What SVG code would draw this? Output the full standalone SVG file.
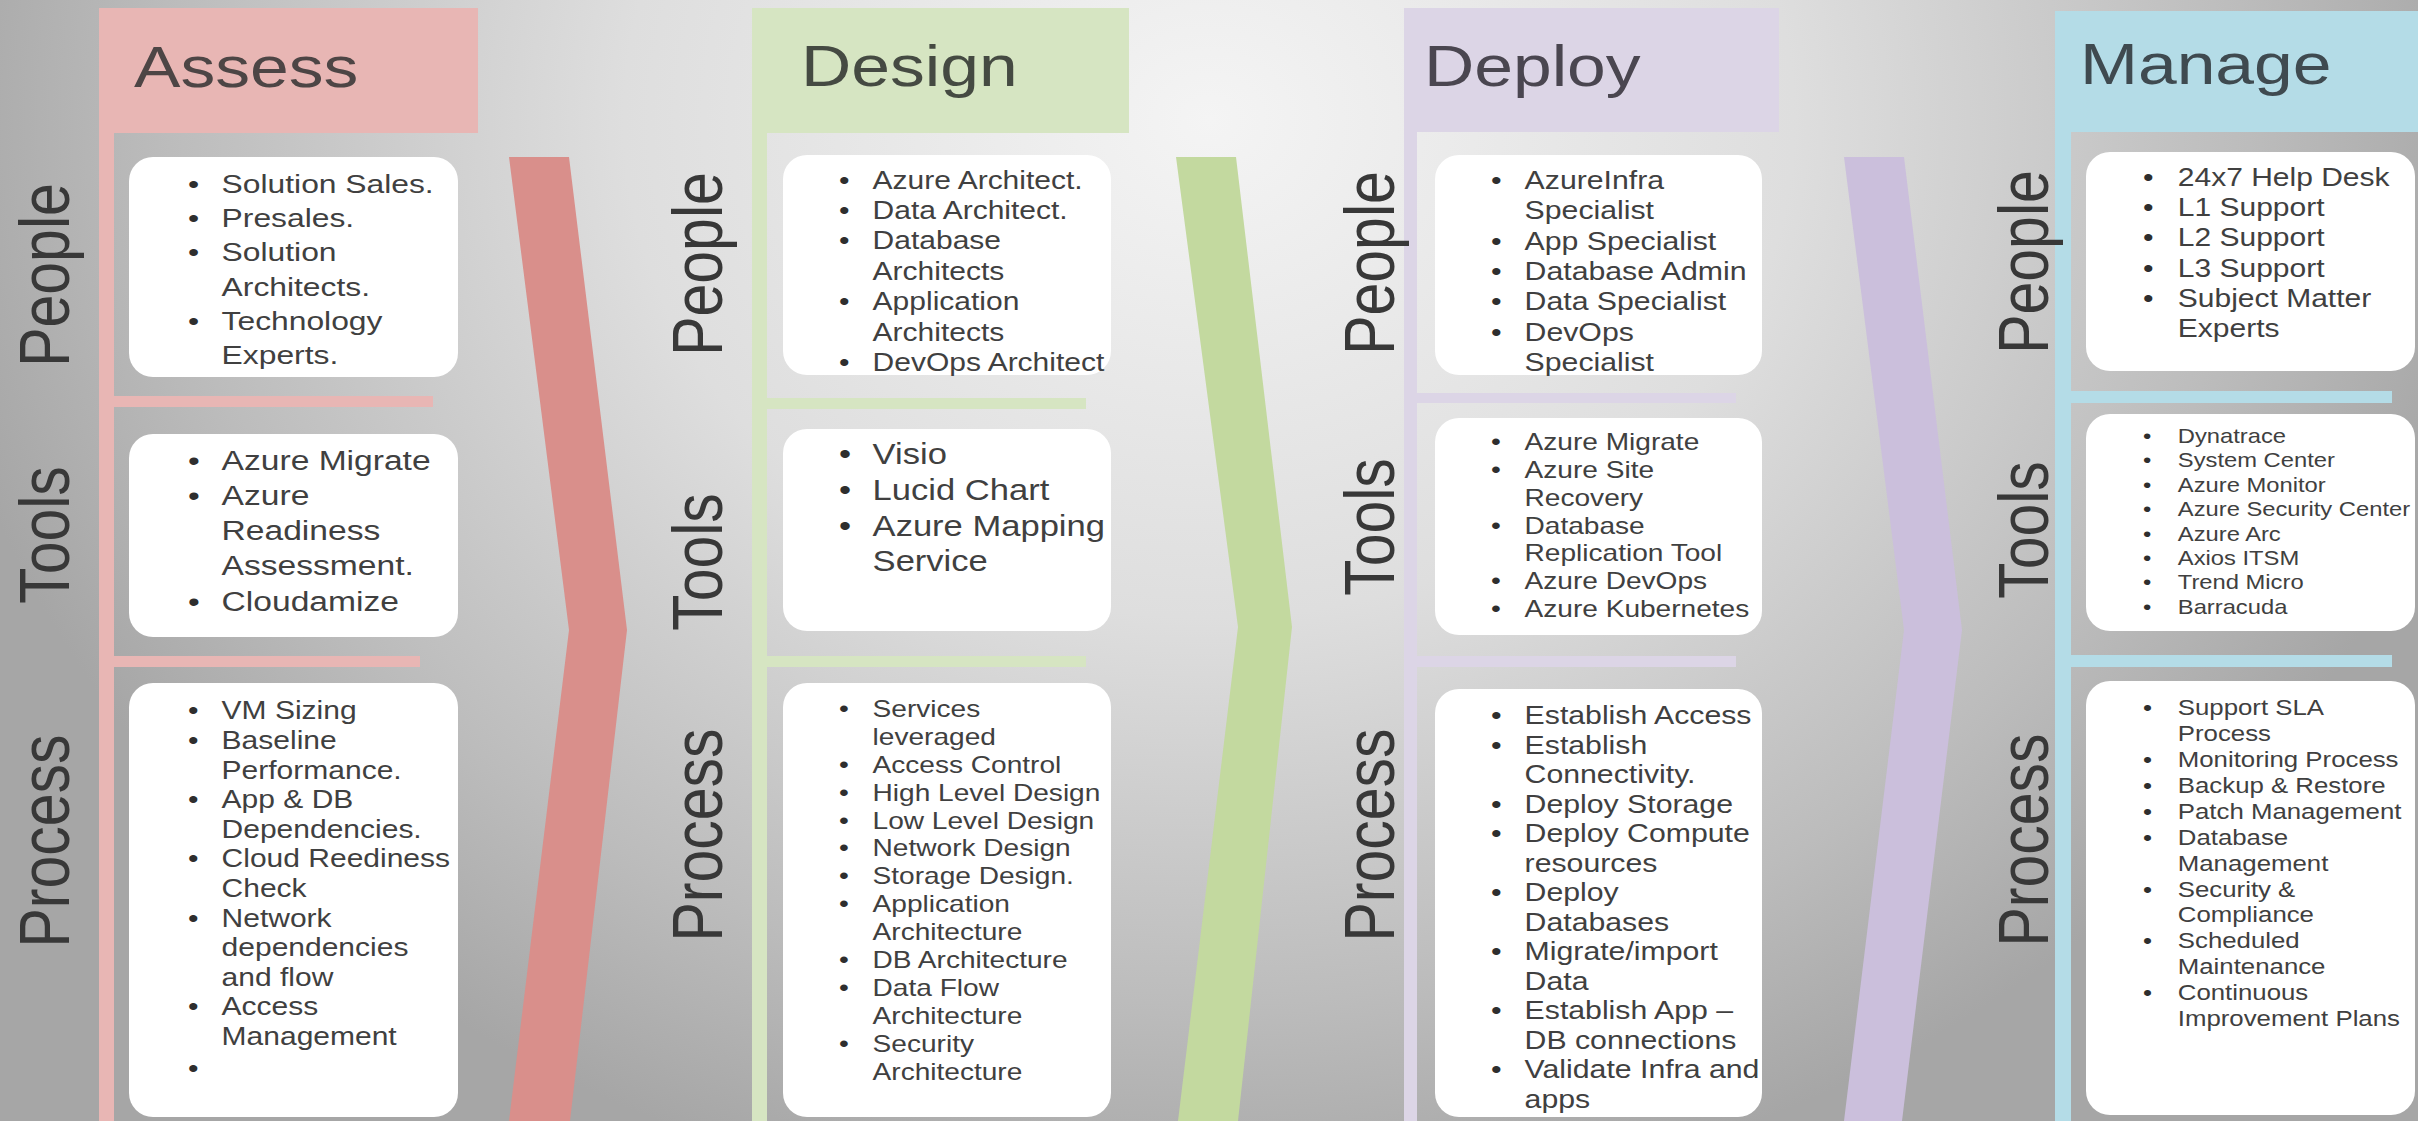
<svg xmlns="http://www.w3.org/2000/svg" width="2418" height="1121" viewBox="0 0 2418 1121">
<defs>
<radialGradient id="bg" gradientUnits="userSpaceOnUse" cx="1209" cy="120" r="1300" gradientTransform="translate(1209 120) scale(1 0.85) translate(-1209 -120)">
<stop offset="0" stop-color="#f4f4f4"/>
<stop offset="0.45" stop-color="#dedede"/>
<stop offset="0.8" stop-color="#bcbcbc"/>
<stop offset="1" stop-color="#a6a6a6"/>
</radialGradient>
<style>
.box{fill:#ffffff;}
.t{font-family:"Liberation Sans",Arial,Helvetica,sans-serif;fill:#404040;}
.bu{fill:#2e2e2e;}
.hd{font-family:"Liberation Sans",Arial,Helvetica,sans-serif;font-size:58px;}
.lbl{font-family:"Liberation Sans",Arial,Helvetica,sans-serif;font-size:59px;fill:#383838;text-anchor:middle;}
.pk{fill:#e8b6b4;}
.gr{fill:#d6e5c2;}
.pu{fill:#dcd5e6;}
.bl{fill:#b4dce7;}
</style>
</defs>
<rect x="0" y="0" width="2418" height="1121" fill="url(#bg)"/>

<g id="connectors">
<polygon points="509,157 569,157 627,630 570,1121 509,1121 569,630" fill="#d98f8b"/>
<polygon points="1176,157 1236,157 1292,627 1238,1121 1178,1121 1238,627" fill="#c3d99f"/>
<polygon points="1844,157 1904,157 1962,630 1902,1121 1844,1121 1904,630" fill="#cbbfdc"/>
</g>

<g id="assess">
<rect class="pk" x="99" y="8" width="379" height="125"/>
<rect class="pk" x="99" y="133" width="15" height="988"/>
<rect class="pk" x="114" y="396" width="319" height="11"/>
<rect class="pk" x="114" y="656" width="306" height="11"/>
<text class="hd" fill="#4d4545" transform="translate(134 87) scale(1.2 1)">Assess</text>
<text class="lbl" transform="translate(69 275) scale(1.2 1) rotate(-90)">People</text>
<text class="lbl" transform="translate(69 535) scale(1.2 1) rotate(-90)">Tools</text>
<text class="lbl" transform="translate(69 841) scale(1.2 1) rotate(-90)">Process</text>
<rect class="box" x="129" y="157" width="329" height="220" rx="24"/>
<rect class="box" x="129" y="434" width="329" height="203" rx="24"/>
<rect class="box" x="129" y="683" width="329" height="434" rx="24"/>
<g class="t" transform="translate(188 0) scale(1.2 1)" font-size="26.5">
<text y="193"><tspan class="bu" x="0">•</tspan><tspan x="28">Solution Sales.</tspan></text>
<text y="227"><tspan class="bu" x="0">•</tspan><tspan x="28">Presales.</tspan></text>
<text y="261"><tspan class="bu" x="0">•</tspan><tspan x="28">Solution</tspan></text>
<text x="28" y="296">Architects.</text>
<text y="330"><tspan class="bu" x="0">•</tspan><tspan x="28">Technology</tspan></text>
<text x="28" y="364">Experts.</text>
</g>
<g class="t" transform="translate(188 0) scale(1.2 1)" font-size="28">
<text y="470"><tspan class="bu" x="0">•</tspan><tspan x="28">Azure Migrate</tspan></text>
<text y="505"><tspan class="bu" x="0">•</tspan><tspan x="28">Azure</tspan></text>
<text x="28" y="540">Readiness</text>
<text x="28" y="575">Assessment.</text>
<text y="611"><tspan class="bu" x="0">•</tspan><tspan x="28">Cloudamize</tspan></text>
</g>
<g class="t" transform="translate(188 0) scale(1.2 1)" font-size="25">
<text y="719"><tspan class="bu" x="0">•</tspan><tspan x="28">VM Sizing</tspan></text>
<text y="749"><tspan class="bu" x="0">•</tspan><tspan x="28">Baseline</tspan></text>
<text x="28" y="779">Performance.</text>
<text y="808"><tspan class="bu" x="0">•</tspan><tspan x="28">App &amp; DB</tspan></text>
<text x="28" y="838">Dependencies.</text>
<text y="867"><tspan class="bu" x="0">•</tspan><tspan x="28">Cloud Reediness</tspan></text>
<text x="28" y="897">Check</text>
<text y="927"><tspan class="bu" x="0">•</tspan><tspan x="28">Network</tspan></text>
<text x="28" y="956">dependencies</text>
<text x="28" y="986">and flow</text>
<text y="1015"><tspan class="bu" x="0">•</tspan><tspan x="28">Access</tspan></text>
<text x="28" y="1045">Management</text>
<text class="bu" x="0" y="1077">•</text>
</g>
</g>

<g id="design">
<rect class="gr" x="752" y="8" width="377" height="125"/>
<rect class="gr" x="752" y="133" width="15" height="988"/>
<rect class="gr" x="767" y="398" width="319" height="11"/>
<rect class="gr" x="767" y="656" width="319" height="11"/>
<text class="hd" fill="#454a42" transform="translate(801 86) scale(1.2 1)">Design</text>
<text class="lbl" transform="translate(722 264) scale(1.2 1) rotate(-90)">People</text>
<text class="lbl" transform="translate(722 562) scale(1.2 1) rotate(-90)">Tools</text>
<text class="lbl" transform="translate(722 835) scale(1.2 1) rotate(-90)">Process</text>
<rect class="box" x="783" y="155" width="328" height="220" rx="24"/>
<rect class="box" x="783" y="429" width="328" height="202" rx="24"/>
<rect class="box" x="783" y="683" width="328" height="434" rx="24"/>
<g class="t" transform="translate(839 0) scale(1.2 1)" font-size="25">
<text y="189"><tspan class="bu" x="0">•</tspan><tspan x="28">Azure Architect.</tspan></text>
<text y="219"><tspan class="bu" x="0">•</tspan><tspan x="28">Data Architect.</tspan></text>
<text y="249"><tspan class="bu" x="0">•</tspan><tspan x="28">Database</tspan></text>
<text x="28" y="280">Architects</text>
<text y="310"><tspan class="bu" x="0">•</tspan><tspan x="28">Application</tspan></text>
<text x="28" y="341">Architects</text>
<text y="371"><tspan class="bu" x="0">•</tspan><tspan x="28">DevOps Architect</tspan></text>
</g>
<g class="t" transform="translate(839 0) scale(1.2 1)" font-size="28.8">
<text y="464"><tspan class="bu" x="0">•</tspan><tspan x="28">Visio</tspan></text>
<text y="500"><tspan class="bu" x="0">•</tspan><tspan x="28">Lucid Chart</tspan></text>
<text y="536"><tspan class="bu" x="0">•</tspan><tspan x="28">Azure Mapping</tspan></text>
<text x="28" y="571">Service</text>
</g>
<g class="t" transform="translate(839 0) scale(1.2 1)" font-size="23.4">
<text y="717"><tspan class="bu" x="0">•</tspan><tspan x="28">Services</tspan></text>
<text x="28" y="745">leveraged</text>
<text y="773"><tspan class="bu" x="0">•</tspan><tspan x="28">Access Control</tspan></text>
<text y="801"><tspan class="bu" x="0">•</tspan><tspan x="28">High Level Design</tspan></text>
<text y="829"><tspan class="bu" x="0">•</tspan><tspan x="28">Low Level Design</tspan></text>
<text y="856"><tspan class="bu" x="0">•</tspan><tspan x="28">Network Design</tspan></text>
<text y="884"><tspan class="bu" x="0">•</tspan><tspan x="28">Storage Design.</tspan></text>
<text y="912"><tspan class="bu" x="0">•</tspan><tspan x="28">Application</tspan></text>
<text x="28" y="940">Architecture</text>
<text y="968"><tspan class="bu" x="0">•</tspan><tspan x="28">DB Architecture</tspan></text>
<text y="996"><tspan class="bu" x="0">•</tspan><tspan x="28">Data Flow</tspan></text>
<text x="28" y="1024">Architecture</text>
<text y="1052"><tspan class="bu" x="0">•</tspan><tspan x="28">Security</tspan></text>
<text x="28" y="1080">Architecture</text>
</g>
</g>

<g id="deploy">
<rect class="pu" x="1404" y="8" width="375" height="124"/>
<rect class="pu" x="1404" y="132" width="13" height="989"/>
<rect class="pu" x="1417" y="393" width="319" height="10"/>
<rect class="pu" x="1417" y="656" width="319" height="11"/>
<text class="hd" fill="#4a4650" transform="translate(1424 86) scale(1.2 1)">Deploy</text>
<text class="lbl" transform="translate(1394 263) scale(1.2 1) rotate(-90)">People</text>
<text class="lbl" transform="translate(1394 527) scale(1.2 1) rotate(-90)">Tools</text>
<text class="lbl" transform="translate(1394 835) scale(1.2 1) rotate(-90)">Process</text>
<rect class="box" x="1435" y="155" width="327" height="220" rx="24"/>
<rect class="box" x="1435" y="418" width="327" height="217" rx="24"/>
<rect class="box" x="1435" y="689" width="327" height="428" rx="24"/>
<g class="t" transform="translate(1491 0) scale(1.2 1)" font-size="25.2">
<text y="189"><tspan class="bu" x="0">•</tspan><tspan x="28">AzureInfra</tspan></text>
<text x="28" y="219">Specialist</text>
<text y="250"><tspan class="bu" x="0">•</tspan><tspan x="28">App Specialist</tspan></text>
<text y="280"><tspan class="bu" x="0">•</tspan><tspan x="28">Database Admin</tspan></text>
<text y="310"><tspan class="bu" x="0">•</tspan><tspan x="28">Data Specialist</tspan></text>
<text y="341"><tspan class="bu" x="0">•</tspan><tspan x="28">DevOps</tspan></text>
<text x="28" y="371">Specialist</text>
</g>
<g class="t" transform="translate(1491 0) scale(1.2 1)" font-size="23.4">
<text y="450"><tspan class="bu" x="0">•</tspan><tspan x="28">Azure Migrate</tspan></text>
<text y="478"><tspan class="bu" x="0">•</tspan><tspan x="28">Azure Site</tspan></text>
<text x="28" y="506">Recovery</text>
<text y="534"><tspan class="bu" x="0">•</tspan><tspan x="28">Database</tspan></text>
<text x="28" y="561">Replication Tool</text>
<text y="589"><tspan class="bu" x="0">•</tspan><tspan x="28">Azure DevOps</tspan></text>
<text y="617"><tspan class="bu" x="0">•</tspan><tspan x="28">Azure Kubernetes</tspan></text>
</g>
<g class="t" transform="translate(1491 0) scale(1.2 1)" font-size="25.2">
<text y="724"><tspan class="bu" x="0">•</tspan><tspan x="28">Establish Access</tspan></text>
<text y="754"><tspan class="bu" x="0">•</tspan><tspan x="28">Establish</tspan></text>
<text x="28" y="783">Connectivity.</text>
<text y="813"><tspan class="bu" x="0">•</tspan><tspan x="28">Deploy Storage</tspan></text>
<text y="842"><tspan class="bu" x="0">•</tspan><tspan x="28">Deploy Compute</tspan></text>
<text x="28" y="872">resources</text>
<text y="901"><tspan class="bu" x="0">•</tspan><tspan x="28">Deploy</tspan></text>
<text x="28" y="931">Databases</text>
<text y="960"><tspan class="bu" x="0">•</tspan><tspan x="28">Migrate/import</tspan></text>
<text x="28" y="990">Data</text>
<text y="1019"><tspan class="bu" x="0">•</tspan><tspan x="28">Establish App –</tspan></text>
<text x="28" y="1049">DB connections</text>
<text y="1078"><tspan class="bu" x="0">•</tspan><tspan x="28">Validate Infra and</tspan></text>
<text x="28" y="1108">apps</text>
</g>
</g>

<g id="manage">
<rect class="bl" x="2055" y="11" width="363" height="121"/>
<rect class="bl" x="2055" y="132" width="16" height="989"/>
<rect class="bl" x="2071" y="391" width="321" height="12"/>
<rect class="bl" x="2071" y="655" width="321" height="12"/>
<text class="hd" fill="#3f4a50" transform="translate(2080 84) scale(1.2 1)">Manage</text>
<text class="lbl" transform="translate(2048 262) scale(1.2 1) rotate(-90)">People</text>
<text class="lbl" transform="translate(2048 530) scale(1.2 1) rotate(-90)">Tools</text>
<text class="lbl" transform="translate(2048 840) scale(1.2 1) rotate(-90)">Process</text>
<rect class="box" x="2086" y="152" width="329" height="219" rx="24"/>
<rect class="box" x="2086" y="414" width="329" height="217" rx="24"/>
<rect class="box" x="2086" y="681" width="329" height="434" rx="24"/>
<g class="t" transform="translate(2143 0) scale(1.2 1)" font-size="25">
<text y="186"><tspan class="bu" x="0">•</tspan><tspan x="29">24x7 Help Desk</tspan></text>
<text y="216"><tspan class="bu" x="0">•</tspan><tspan x="29">L1 Support</tspan></text>
<text y="246"><tspan class="bu" x="0">•</tspan><tspan x="29">L2 Support</tspan></text>
<text y="277"><tspan class="bu" x="0">•</tspan><tspan x="29">L3 Support</tspan></text>
<text y="307"><tspan class="bu" x="0">•</tspan><tspan x="29">Subject Matter</tspan></text>
<text x="29" y="337">Experts</text>
</g>
<g class="t" transform="translate(2143 0) scale(1.2 1)" font-size="19.8">
<text y="443"><tspan class="bu" x="0">•</tspan><tspan x="29">Dynatrace</tspan></text>
<text y="467"><tspan class="bu" x="0">•</tspan><tspan x="29">System Center</tspan></text>
<text y="492"><tspan class="bu" x="0">•</tspan><tspan x="29">Azure Monitor</tspan></text>
<text y="516"><tspan class="bu" x="0">•</tspan><tspan x="29">Azure Security Center</tspan></text>
<text y="541"><tspan class="bu" x="0">•</tspan><tspan x="29">Azure Arc</tspan></text>
<text y="565"><tspan class="bu" x="0">•</tspan><tspan x="29">Axios ITSM</tspan></text>
<text y="589"><tspan class="bu" x="0">•</tspan><tspan x="29">Trend Micro</tspan></text>
<text y="614"><tspan class="bu" x="0">•</tspan><tspan x="29">Barracuda</tspan></text>
</g>
<g class="t" transform="translate(2143 0) scale(1.2 1)" font-size="21.5">
<text y="715"><tspan class="bu" x="0">•</tspan><tspan x="29">Support SLA</tspan></text>
<text x="29" y="741">Process</text>
<text y="767"><tspan class="bu" x="0">•</tspan><tspan x="29">Monitoring Process</tspan></text>
<text y="793"><tspan class="bu" x="0">•</tspan><tspan x="29">Backup &amp; Restore</tspan></text>
<text y="819"><tspan class="bu" x="0">•</tspan><tspan x="29">Patch Management</tspan></text>
<text y="845"><tspan class="bu" x="0">•</tspan><tspan x="29">Database</tspan></text>
<text x="29" y="871">Management</text>
<text y="897"><tspan class="bu" x="0">•</tspan><tspan x="29">Security &amp;</tspan></text>
<text x="29" y="922">Compliance</text>
<text y="948"><tspan class="bu" x="0">•</tspan><tspan x="29">Scheduled</tspan></text>
<text x="29" y="974">Maintenance</text>
<text y="1000"><tspan class="bu" x="0">•</tspan><tspan x="29">Continuous</tspan></text>
<text x="29" y="1026">Improvement Plans</text>
</g>
</g>
</svg>
